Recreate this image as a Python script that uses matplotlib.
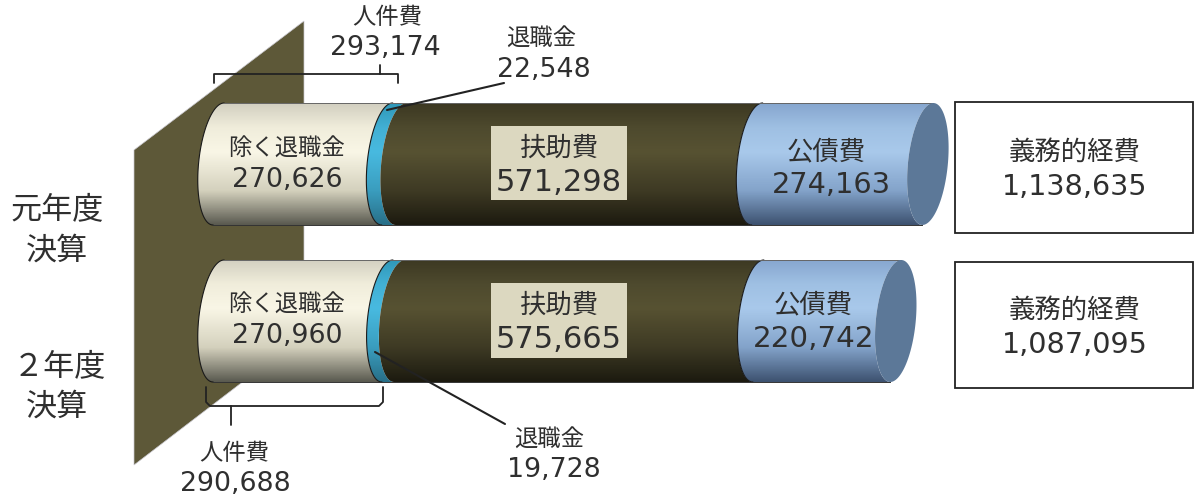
#!/usr/bin/env python3
"""Settlement expenditure, two years, drawn as stacked cylinders on a wall."""

import numpy as np
import matplotlib
matplotlib.use("Agg")
import matplotlib.pyplot as plt
from matplotlib.colors import LinearSegmentedColormap
from matplotlib.patches import Polygon, Rectangle
from matplotlib.transforms import Affine2D

W, H = 1195, 495

years = ["元年度\n決算", "２年度\n決算"]
seg_names = ["除く退職金", "退職金", "扶助費", "公債費"]
year1_vals = [270626, 22548, 571298, 274163]
year2_vals = [270960, 19728, 575665, 220742]
personnel = [293174, 290688]
totals = [1138635, 1087095]
total_name = "義務的経費"
personnel_name = "人件費"

seg_colors = [
    ["#d2cfc0", "#f0eddb", "#f9f6e6", "#d4d1bd", "#5a5a50"],
    ["#2f97b8", "#42b0d4", "#48bae0", "#3a9dbe", "#286f88"],
    ["#3c3822", "#4e4a2e", "#575232", "#3e3a24", "#1c1a0f"],
    ["#86a6cf", "#9fc0e3", "#a9c9eb", "#83a3ca", "#3d5270"],
]
grad_stops = [0.0, 0.2, 0.4, 0.72, 1.0]

X_SCALE = 0.000623  # px per unit
X0 = 218.5
ROW0 = 164
ROW_GAP = 157
HALF = 61 / ROW_GAP
ARC_A = 20 / X_SCALE
ARC_SKEW = 5.5 / X_SCALE

CJK = ["Noto Sans CJK JP", "DejaVu Sans"]
INK = "#2f2f2f"


def left_arc(c, row):
    th = np.radians(np.linspace(90, 270, 60))
    return c + ARC_SKEW * np.sin(th) + ARC_A * np.cos(th), row - HALF * np.sin(th)


def draw_row(ax, vals, row):
    edges = np.concatenate([[0], np.cumsum(vals)])
    for i in range(len(vals)):
        xl, yl = left_arc(edges[i], row)
        xr, yr = left_arc(edges[i + 1], row)
        pts = np.r_[np.c_[xl, yl], np.c_[xr, yr][::-1]]
        patch = Polygon(pts, closed=True, fc="none", ec="none", transform=ax.transData)
        ax.add_patch(patch)
        cmap = LinearSegmentedColormap.from_list("g", list(zip(grad_stops, seg_colors[i])))
        im = ax.imshow(
            np.linspace(0, 1, 200)[:, None], cmap=cmap, aspect="auto", zorder=2,
            extent=(pts[:, 0].min(), pts[:, 0].max(), row + HALF, row - HALF),
        )
        im.set_clip_path(patch)
        if i != 2:  # ring/dark seam has no line in the original
            ax.plot(xl, yl, color="#1a1a1a", lw=0.8, zorder=3)
    # top and bottom edges, end cap
    ax.plot([edges[0] + ARC_SKEW, edges[-1] + ARC_SKEW], [row - HALF] * 2, color="#666666", lw=0.7, zorder=3)
    ax.plot([edges[0] - ARC_SKEW, edges[-1] - ARC_SKEW], [row + HALF] * 2, color="#333333", lw=0.7, zorder=3)
    xl, yl = left_arc(edges[-1], row)
    xr = 2 * edges[-1] - xl
    yr = 2 * row - yl
    ax.add_patch(Polygon(np.r_[np.c_[xl, yl], np.c_[xr, yr]], closed=True, fc="#5c7898", ec="none", zorder=3))


fig = plt.figure(figsize=(W / 100, H / 100), dpi=100)
ax = fig.add_axes([0, 0, 1, 1])

for row, vals in enumerate([year1_vals, year2_vals]):
    draw_row(ax, vals, row)

ax.set_xlim(-X0 / X_SCALE, (W - X0) / X_SCALE)
ax.set_ylim((H - ROW0) / ROW_GAP, -ROW0 / ROW_GAP)
ax.axis("off")

# decoration and labels are placed in picture pixels
px = Affine2D().scale(1, -1).translate(0, H)


def cjk(x, y, s, size=16.8):
    ax.text(x, y + 1.5, s, transform=px, ha="center", va="center", fontsize=size, family=CJK, color=INK, zorder=6)


def num(x, y, v, size=19.3):
    ax.text(x, y + 1.5, f"{v:,}", transform=px, ha="center", va="center", fontsize=size,
            family="DejaVu Sans", color=INK, zorder=6)


def stroke(xs, ys, lw=1.3):
    ax.plot(xs, ys, color="#222222", lw=lw, transform=px, zorder=5, solid_capstyle="round")


ax.add_patch(Polygon([(134, 150), (304, 21), (304, 335), (134, 465)], closed=True,
                     fc="#5d5838", ec="#c9c8d0", lw=0.5, transform=px, zorder=1))

# row 1 labels
cjk(287, 148, seg_names[0])
num(287, 178, year1_vals[0])
ax.add_patch(Rectangle((491, 126), 136, 74, fc="#dcd8c0", ec="none", transform=px, zorder=4))
cjk(559, 147, seg_names[2], 19)
num(559, 181, year1_vals[2], 22)
cjk(826, 150, seg_names[3], 19)
num(831, 184, year1_vals[3], 20.7)
cjk(387, 16, personnel_name)
num(385, 47, personnel[0])
cjk(541, 38, seg_names[1])
num(544, 68, year1_vals[1])

# row 2 labels
cjk(287, 304, seg_names[0])
num(287, 335, year2_vals[0])
ax.add_patch(Rectangle((491, 283), 136, 75, fc="#dcd8c0", ec="none", transform=px, zorder=4))
cjk(559, 304, seg_names[2], 19)
num(559, 338, year2_vals[2], 22)
cjk(813, 303, seg_names[3], 19)
num(814, 338, year2_vals[3], 21.2)
cjk(234, 452, personnel_name)
num(235, 482, personnel[1])
cjk(549, 439, seg_names[1])
num(554, 469, year2_vals[1])

# year labels
for (x, y1, y2), name in zip([(57, 209, 250), (59, 366, 406)], years):
    top, bottom = name.split("\n")
    cjk(x, y1, top, 22.4)
    cjk(57, y2, bottom, 22.4)

# total boxes
for (y0, y1, ty, ny), v in zip([(102, 233, 151, 186), (262, 388, 309, 343)], totals):
    ax.add_patch(Rectangle((955, y0), 238, y1 - y0, fc="white", ec="#222222", lw=1.3, transform=px, zorder=4))
    cjk(1075, ty, total_name, 19)
    num(1075, ny, v, 20.6)

# brackets and leader lines
stroke([214, 214, 398, 398], [83, 74, 74, 83])
stroke([380, 380], [74, 65])
stroke([206, 206, 210, 379, 383, 383], [387, 402, 406, 406, 402, 387])
stroke([231, 231], [406, 425])
stroke([387, 504], [110, 83], 1.5)
stroke([375, 505], [352, 424], 1.5)

fig.savefig("out.png", dpi=100)
